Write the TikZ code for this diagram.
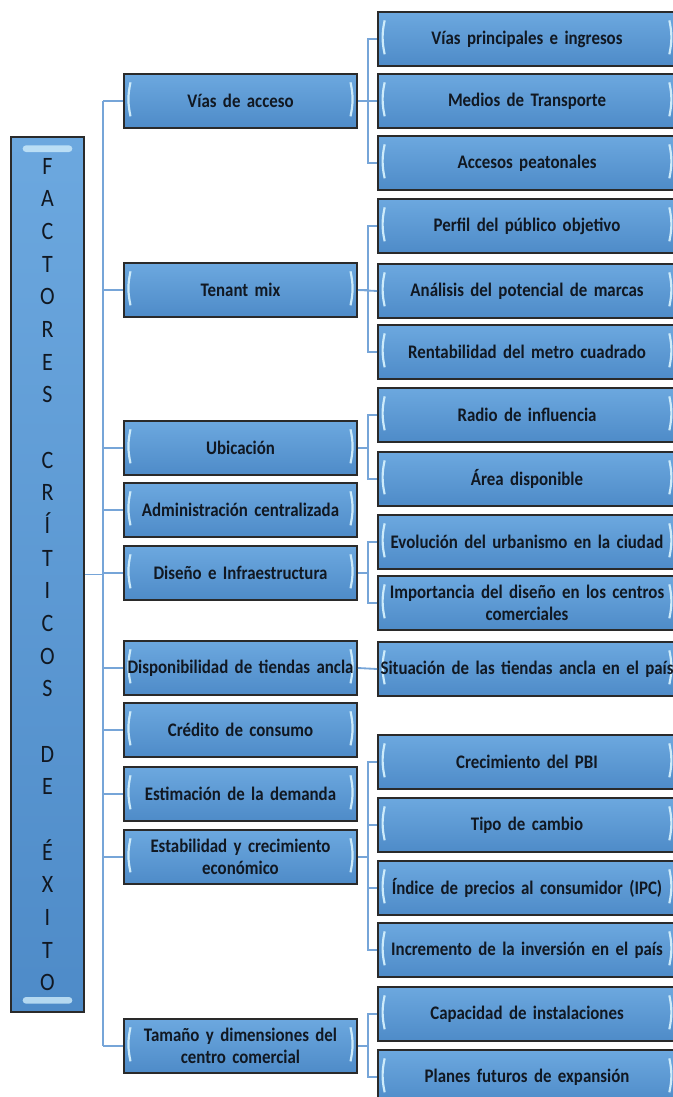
\documentclass[tikz,border=0pt]{standalone}
\usepackage{fontspec}
\setmainfont{Carlito}[FakeStretch=0.88, WordSpace=0.75]
\definecolor{boxtop}{HTML}{6CA8DF}
\definecolor{boxbot}{HTML}{4E8BC8}
\definecolor{boxedge}{HTML}{2A2A2A}
\definecolor{linkblue}{HTML}{76A5D8}
\definecolor{glintc}{HTML}{CDEBFA}
\definecolor{inktext}{HTML}{111822}
\tikzset{
  glint/.style={draw=glintc, line width=1.3pt},
  box/.style={draw=boxedge, line width=1pt, top color=boxtop, bottom color=boxbot,
    minimum height=32.4pt, inner sep=1pt, align=center, text=inktext,
    font=\bfseries\fontsize{11.5}{13}\selectfont,
    path picture={
      \draw[glint] ([xshift=4pt,yshift=-5pt]path picture bounding box.north west)
        to[bend right=12] ([xshift=4pt,yshift=7pt]path picture bounding box.south west);
      \draw[glint] ([xshift=-4pt,yshift=-5pt]path picture bounding box.north east)
        to[bend left=12] ([xshift=-4pt,yshift=7pt]path picture bounding box.south east);
    }},
  midbox/.style={box, minimum width=139.8pt, text width=138pt},
  subbox/.style={box, minimum width=178.8pt, text width=176pt},
  titlebox/.style={draw=boxedge, line width=1pt, top color=boxtop, bottom color=boxbot,
    minimum width=43.8pt, minimum height=525pt, align=center, text=inktext,
    font=\fontsize{15}{19.6}\selectfont,
    path picture={
      \fill[glintc!80!boxtop, rounded corners=2pt] ([xshift=7pt,yshift=-5pt]path picture bounding box.north west)
        rectangle ([xshift=-7pt,yshift=-9pt]path picture bounding box.north east);
      \fill[glintc!80!boxbot, rounded corners=2pt] ([xshift=7pt,yshift=5pt]path picture bounding box.south west)
        rectangle ([xshift=-7pt,yshift=9pt]path picture bounding box.south east);
    }},
  link/.style={draw=linkblue, line width=1.1pt},
}
\begin{document}
\begin{tikzpicture}[x=0.6pt, y=-0.6pt]
  \useasboundingbox (0,0) rectangle (672,1097);
  % left title
  \node[titlebox] (fce) at (47.5,574.5) {F\\A\\C\\T\\O\\R\\E\\S\\[19.6pt]C\\R\\Í\\T\\I\\C\\O\\S\\[19.6pt]D\\E\\[19.6pt]É\\X\\I\\T\\O};
  \coordinate (trunk) at (103,575);
  \coordinate (fork) at (368,0);
  % factors
  \node[midbox] (vias) at (240.5,101) {Vías de acceso};
  \node[midbox] (tenant) at (240.5,290) {Tenant mix};
  \node[midbox] (ubic) at (240.5,448) {Ubicación};
  \node[midbox] (admin) at (240.5,510) {Administración centralizada};
  \node[midbox] (diseno) at (240.5,573) {Diseño e Infraestructura};
  \node[midbox] (ancla) at (240.5,668) {Disponibilidad de tiendas ancla};
  \node[midbox] (credito) at (240.5,730) {Crédito de consumo};
  \node[midbox] (demanda) at (240.5,794) {Estimación de la demanda};
  \node[midbox] (estab) at (240.5,857) {Estabilidad y crecimiento\\económico};
  \node[midbox] (tamano) at (240.5,1046) {Tamaño y dimensiones del\\centro comercial};
  % sub factors
  \node[subbox] (ingresos) at (527,39) {Vías principales e ingresos};
  \node[subbox] (transp) at (527,101) {Medios de Transporte};
  \node[subbox] (peaton) at (527,163) {Accesos peatonales};
  \node[subbox] (perfil) at (527,226) {Perfil del público objetivo};
  \node[subbox] (marcas) at (527,291) {Análisis del potencial de marcas};
  \node[subbox] (rentab) at (527,352) {Rentabilidad del metro cuadrado};
  \node[subbox] (radio) at (527,415) {Radio de influencia};
  \node[subbox] (area) at (527,479) {Área disponible};
  \node[subbox] (urban) at (527,542) {Evolución del urbanismo en la ciudad};
  \node[subbox] (impdis) at (527,603) {Importancia del diseño en los centros\\comerciales};
  \node[subbox] (sitanc) at (527,669) {Situación de las tiendas ancla en el país};
  \node[subbox] (pbi) at (527,762) {Crecimiento del PBI};
  \node[subbox] (cambio) at (527,825) {Tipo de cambio};
  \node[subbox] (ipc) at (527,888) {Índice de precios al consumidor (IPC)};
  \node[subbox] (invers) at (527,950) {Incremento de la inversión en el país};
  \node[subbox] (capac) at (527,1014) {Capacidad de instalaciones};
  \node[subbox] (planes) at (527,1077) {Planes futuros de expansión};
  % trunk
  \draw[link] (fce.east) -- (fce.east -| trunk);
  \draw[link] (vias.west -| trunk) -- (tamano.west -| trunk);
  \draw[link] (vias.west) -- (vias.west -| trunk);
  \draw[link] (tenant.west) -- (tenant.west -| trunk);
  \draw[link] (ubic.west) -- (ubic.west -| trunk);
  \draw[link] (admin.west) -- (admin.west -| trunk);
  \draw[link] (diseno.west) -- (diseno.west -| trunk);
  \draw[link] (ancla.west) -- (ancla.west -| trunk);
  \draw[link] (credito.west) -- (credito.west -| trunk);
  \draw[link] (demanda.west) -- (demanda.west -| trunk);
  \draw[link] (estab.west) -- (estab.west -| trunk);
  \draw[link] (tamano.west) -- (tamano.west -| trunk);
  % branches
  \draw[link] (vias.east) -- (vias.east -| fork) |- (ingresos.west);
  \draw[link] (vias.east) -- (transp.west);
  \draw[link] (vias.east -| fork) |- (peaton.west);
  \draw[link] (tenant.east) -- (tenant.east -| fork) |- (perfil.west);
  \draw[link] (tenant.east) -- (marcas.west);
  \draw[link] (tenant.east -| fork) |- (rentab.west);
  \draw[link] (ubic.east) -- (ubic.east -| fork) |- (radio.west);
  \draw[link] (ubic.east -| fork) |- (area.west);
  \draw[link] (diseno.east) -- (diseno.east -| fork) |- (urban.west);
  \draw[link] (diseno.east -| fork) |- (impdis.west);
  \draw[link] (ancla.east) -- (sitanc.west);
  \draw[link] (estab.east) -- (estab.east -| fork) |- (pbi.west);
  \draw[link] (estab.east -| fork) |- (cambio.west);
  \draw[link] (estab.east -| fork) |- (ipc.west);
  \draw[link] (estab.east -| fork) |- (invers.west);
  \draw[link] (tamano.east) -- (tamano.east -| fork) |- (capac.west);
  \draw[link] (tamano.east -| fork) |- (planes.west);
\end{tikzpicture}
\end{document}
